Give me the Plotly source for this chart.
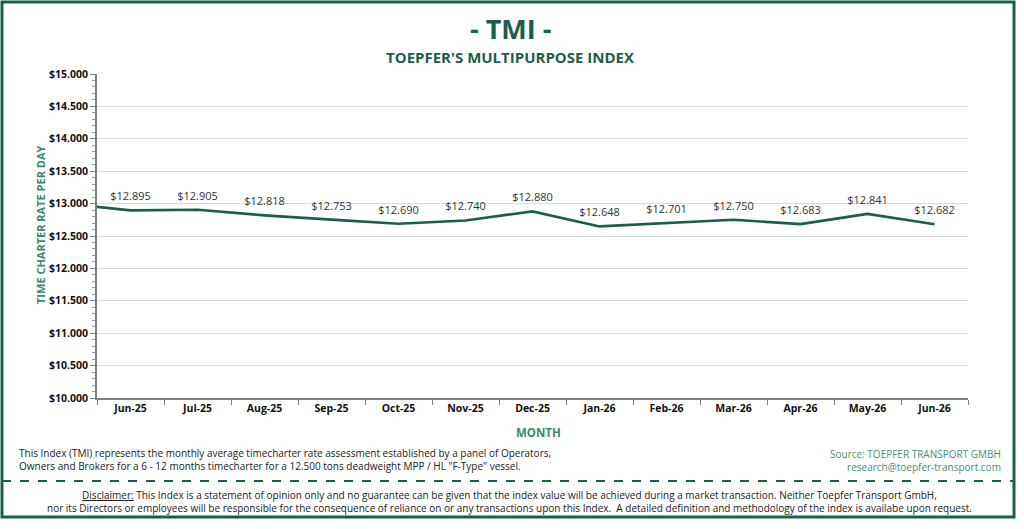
import plotly.graph_objects as go

# monthly index values (USD/day); the first value sits just outside the visible range
months = ["May-25", "Jun-25", "Jul-25", "Aug-25", "Sep-25", "Oct-25", "Nov-25", "Dec-25",
          "Jan-26", "Feb-26", "Mar-26", "Apr-26", "May-26", "Jun-26"]
rates = [13005, 12895, 12905, 12818, 12753, 12690, 12740, 12880,
         12648, 12701, 12750, 12683, 12841, 12682]
labels = [""] + ["${:,}".format(v).replace(",", ".") for v in rates[1:]]

GREEN = "#1d5e4a"
LIGHT_GREEN = "#3b8a6a"
W, H = 1024, 529
L, R, T, B = 97, 968, 74, 398  # plot area in pixels


def px(x):
    return (x - L) / (R - L)


def py(y):
    return (B - y) / (B - T)


fig = go.Figure()
fig.add_trace(go.Scatter(
    x=months, y=rates,
    mode="lines+markers+text",
    text=labels,
    textposition="top center",
    textfont=dict(size=11, color="#333333", family="Open Sans"),
    line=dict(color=GREEN, width=2.6),
    marker=dict(size=10, opacity=0),
    cliponaxis=True,
    hoverinfo="x+y",
    showlegend=False
))

fig.update_layout(
    width=W, height=H,
    margin=dict(l=L, r=W - R, t=T, b=H - B),
    plot_bgcolor="white",
    paper_bgcolor="white",
    separators=",.",
    font=dict(family="Open Sans", color="#222222"),
    xaxis=dict(
        type="category",
        range=[0.5, 13.5],
        tickson="boundaries",
        ticks="outside", ticklen=5, tickcolor="#7f7f7f",
        showline=True, linecolor="#7f7f7f", linewidth=1.5,
        showgrid=False,
        tickfont=dict(size=10.5, color="#111111", weight="bold"),
    ),
    yaxis=dict(
        range=[10000, 15000],
        dtick=500,
        tickprefix="$",
        tickformat=",d",
        ticks="outside", ticklen=5, tickcolor="#7f7f7f",
        showline=True, linecolor="#7f7f7f", linewidth=1.5,
        gridcolor="#dcdcdc", gridwidth=1.3,
        minor=dict(ticks="outside", dtick=100, ticklen=3, tickcolor="#9a9a9a", showgrid=False),
        tickfont=dict(size=10.5, color="#111111", weight="bold"),
    ),
)

annotations = [
    dict(x=px(510), y=py(28), text="<b>- TMI -</b>", font=dict(size=27, color=GREEN)),
    dict(x=px(510), y=py(57), text="<b>TOEPFER'S MULTIPURPOSE INDEX</b>", font=dict(size=15, color=GREEN)),
    dict(x=px(538), y=py(432), text="<b>MONTH</b>", font=dict(size=11.5, color=LIGHT_GREEN)),
    dict(x=px(40), y=py(225), text="<b>TIME CHARTER RATE PER DAY</b>", textangle=-90,
         font=dict(size=11, color=LIGHT_GREEN)),
    dict(x=px(17), y=py(459), xanchor="left", align="left",
         text="This Index (TMI) represents the monthly average timecharter rate assessment established by a panel of Operators,"
              "<br>Owners and Brokers for a 6 - 12 months timecharter for a 12.500 tons deadweight MPP / HL \"F-Type\" vessel.",
         font=dict(size=10, color="#222222")),
    dict(x=px(1003), y=py(460), xanchor="right", align="right",
         text="Source: TOEPFER TRANSPORT GMBH<br>research@toepfer-transport.com",
         font=dict(size=10, color="#4e8c72")),
    dict(x=px(509), y=py(501), align="center",
         text="<u>Disclaimer:</u> This Index is a statement of opinion only and no guarantee can be given that the index value will be achieved during a market transaction. Neither Toepfer Transport GmbH,"
              "<br>nor its Directors or employees will be responsible for the consequence of reliance on or any transactions upon this Index.  A detailed definition and methodology of the index is availabe upon request.",
         font=dict(size=10, color="#222222")),
]
for a in annotations:
    a.setdefault("xanchor", "center")
    fig.add_annotation(xref="paper", yref="paper", yanchor="middle", showarrow=False, **a)

# outer frame and dashed separator
fig.add_shape(type="rect", xref="paper", yref="paper",
              x0=px(2), x1=px(1014), y0=py(2), y1=py(517),
              line=dict(color=GREEN, width=3), layer="below")
fig.add_shape(type="line", xref="paper", yref="paper",
              x0=px(2), x1=px(1014), y0=py(481), y1=py(481),
              line=dict(color=GREEN, width=2, dash="dash"))

fig.write_html("out.html", config={"displayModeBar": False},
               post_script="document.body.style.margin='0';")
